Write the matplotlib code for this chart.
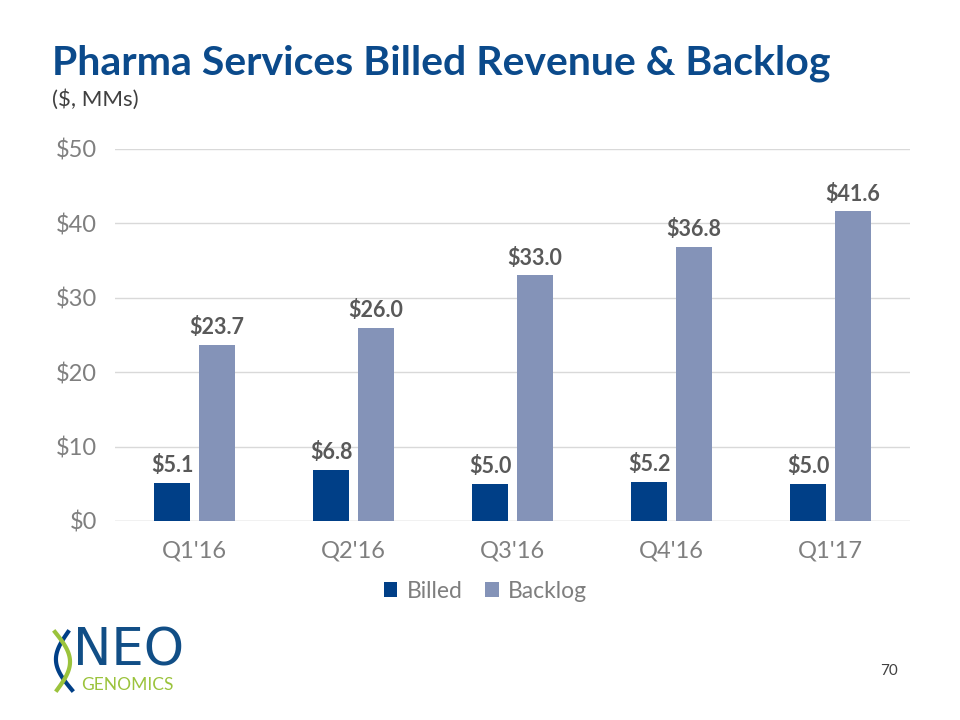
import numpy as np
import matplotlib.pyplot as plt

quarters = ["Q1'16", "Q2'16", "Q3'16", "Q4'16", "Q1'17"]
billed = [5.1, 6.8, 5.0, 5.2, 5.0]
backlog = [23.7, 26.0, 33.0, 36.8, 41.6]
yticks = [0, 10, 20, 30, 40, 50]

plt.rcParams['font.family'] = ['Lato', 'DejaVu Sans']

fig = plt.figure(figsize=(9.6, 7.2), dpi=100)
ax = fig.add_axes([0.12, 0.2764, 0.828, 0.5167])

x = np.arange(len(quarters))
w = 0.226
off = 0.141
b1 = ax.bar(x - off, billed, w, color='#003F87', label='Billed', zorder=3)
b2 = ax.bar(x + off, backlog, w, color='#8493B8', label='Backlog', zorder=3)

for bars, vals in ((b1, billed), (b2, backlog)):
    for r, v in zip(bars, vals):
        ax.annotate('$%.1f' % v, (r.get_x() + r.get_width() / 2, v),
                    xytext=(0, 5), textcoords='offset points',
                    ha='center', va='bottom', fontsize=15.5, fontweight='bold',
                    color='#595959')

ax.set_xlim(-0.5, len(quarters) - 0.5)
ax.set_ylim(0, 50)
ax.set_yticks(yticks)
ax.set_yticklabels(['$%d' % t for t in yticks])
ax.set_xticks(x)
ax.set_xticklabels(quarters)
ax.tick_params(axis='both', length=0, labelsize=17, colors='#7F7F7F')
ax.tick_params(axis='y', pad=13)
ax.tick_params(axis='x', pad=14)
ax.grid(axis='y', color='#D9D9D9', linewidth=1, zorder=0)
for s in ax.spines.values():
    s.set_visible(False)
ax.axhline(0, color='#D9D9D9', linewidth=1, zorder=1)

ax.legend(loc='upper center', bbox_to_anchor=(0.466, -0.105), ncol=2, frameon=False,
          fontsize=16.5, labelcolor='#7F7F7F', handlelength=0.6, handleheight=0.6,
          handletextpad=0.4, columnspacing=1.0)

fig.text(0.054, 0.912, 'Pharma Services Billed Revenue & Backlog', fontsize=29.5,
         fontweight='bold', color='#0B4A8B', va='center')
fig.text(0.054, 0.862, '($, MMs)', fontsize=16, color='#404040', va='center')
fig.text(0.935, 0.068, '70', fontsize=11, color='#404040', ha='right', va='center')

# logo, drawn in pixel coordinates
lg = fig.add_axes([40 / 960, 25 / 720, 160 / 960, 70 / 720])
lg.set_xlim(40, 200)
lg.set_ylim(695, 625)
lg.axis('off')
t = np.linspace(0, 1, 60)
lg.plot(68 - 14 * np.sin(np.pi * t) + 4 * t, 632 + 58 * t, color='#003F87', lw=3)
lg.plot(55 + 14 * np.sin(np.pi * t) + 2 * t, 632 + 58 * t, color='#9BC33C', lw=3)
lg.text(73, 665, 'NEO', fontsize=37, color='#114E86', va='baseline', ha='left',
        family='DejaVu Sans')
lg.text(81, 685, 'GENOMICS', fontsize=12.5, color='#9BC33C', va='center', ha='left')

fig.savefig('out.png', dpi=100)
